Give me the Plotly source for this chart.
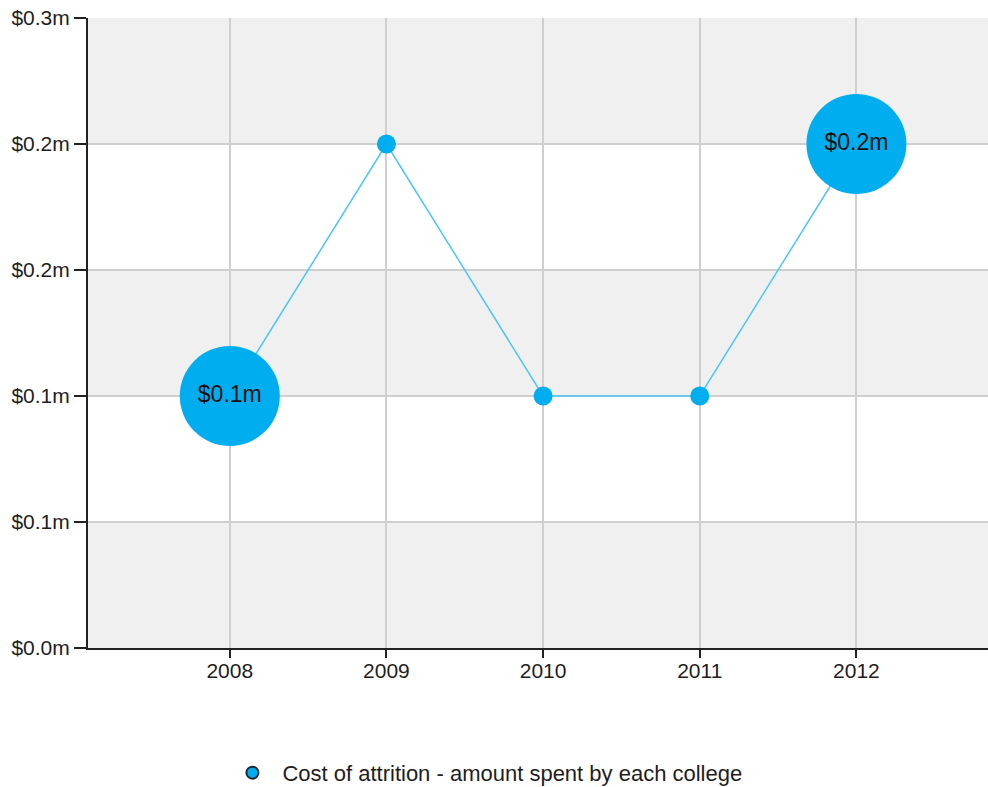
import plotly.graph_objects as go

years = [2008, 2009, 2010, 2011, 2012]
cost = [0.12, 0.24, 0.12, 0.12, 0.24]
point_labels = ["$0.1m", "", "", "", "$0.2m"]
marker_sizes = [100, 19, 19, 19, 100]
y_tick_vals = [0.0, 0.06, 0.12, 0.18, 0.24, 0.30]
y_tick_text = ["$0.0m", "$0.1m", "$0.1m", "$0.2m", "$0.2m", "$0.3m"]
series_name = "Cost of attrition - amount spent by each college"

BLUE = "#00aeef"
LINE = "#4cc6f5"
FONT = "Liberation Sans, Arial, sans-serif"

fig = go.Figure()
fig.add_trace(go.Scatter(
    x=years, y=cost, mode="lines+markers+text",
    line=dict(color=LINE, width=1.5),
    marker=dict(size=marker_sizes, color=BLUE, line=dict(width=0), opacity=1),
    text=point_labels, textposition="middle center",
    textfont=dict(family=FONT, size=23, color="#111111"),
    showlegend=False, hoverinfo="x+y", cliponaxis=False,
))
fig.add_trace(go.Scatter(
    x=[None], y=[None], mode="markers", name=series_name,
    marker=dict(size=14, color=BLUE, line=dict(color="#1b2b36", width=2)),
))

# alternating background bands between y ticks (gray, white, gray, ...)
shapes = []
for i in range(len(y_tick_vals) - 1):
    if i % 2 == 0:
        shapes.append(dict(type="rect", xref="paper", yref="y", x0=0, x1=1,
                           y0=y_tick_vals[i], y1=y_tick_vals[i + 1],
                           fillcolor="#f0f0f0", line=dict(width=0), layer="below"))

fig.update_layout(
    width=988, height=787,
    margin=dict(l=88, r=0, t=18, b=139),
    paper_bgcolor="white", plot_bgcolor="white",
    font=dict(family=FONT, size=21, color="#1e1e1e"),
    shapes=shapes,
    showlegend=True,
    legend=dict(orientation="h", x=0.441, xanchor="center", yref="container",
                y=0.018, yanchor="middle", itemwidth=50,
                font=dict(family=FONT, size=22, color="#1e1e1e"), itemsizing="constant"),
    xaxis=dict(range=[2007.095, 2012.84], tickvals=years, ticktext=[str(y) for y in years],
               showgrid=True, gridcolor="#cfcfcf", gridwidth=1.5, zeroline=False,
               showline=True, linecolor="#222222", linewidth=2,
               ticks="outside", ticklen=8, tickcolor="#222222", tickwidth=2,
               ticklabelstandoff=-5,
               tickfont=dict(size=21), fixedrange=True),
    yaxis=dict(range=[0, 0.3], tickvals=y_tick_vals, ticktext=y_tick_text,
               showgrid=True, gridcolor="#cfcfcf", gridwidth=1.5, zeroline=False,
               showline=True, linecolor="#222222", linewidth=2,
               ticks="outside", ticklen=12, tickcolor="#222222", tickwidth=2,
               tickfont=dict(size=21), fixedrange=True),
)

fig.write_html("out.html", config={"displayModeBar": False},
               post_script="document.body.style.margin='0';document.body.style.overflow='hidden';")
